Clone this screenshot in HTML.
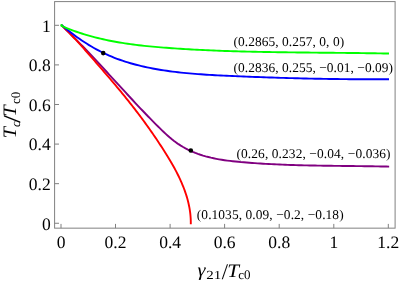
<!DOCTYPE html>
<html><head><meta charset="utf-8"><style>
html,body{margin:0;padding:0;background:#fff;}
svg{display:block;font-family:"Liberation Serif",serif;text-rendering:geometricPrecision;}
.i{font-style:italic}
</style></head><body>
<svg style="will-change:transform" width="399" height="281" viewBox="0 0 399 281">
<rect width="399" height="281" fill="#fff"/>
<g fill="none" stroke-width="1.9" stroke-linecap="butt" stroke-linejoin="round">
<path stroke="#800080" d="M61.16,25.04 L63.16,26.93 L65.16,28.82 L67.14,30.73 L69.11,32.65 L71.07,34.57 L73.03,36.50 L74.97,38.44 L76.91,40.39 L78.84,42.34 L80.76,44.31 L82.67,46.27 L84.58,48.24 L86.48,50.22 L88.37,52.21 L90.26,54.19 L92.14,56.19 L94.02,58.19 L95.89,60.19 L97.76,62.19 L99.63,64.20 L101.49,66.21 L103.35,68.22 L105.21,70.24 L107.07,72.26 L108.92,74.28 L110.77,76.30 L112.62,78.32 L114.48,80.34 L116.33,82.36 L118.18,84.39 L120.03,86.41 L121.88,88.43 L123.74,90.45 L125.59,92.47 L127.45,94.49 L129.31,96.50 L131.18,98.51 L133.04,100.52 L134.92,102.53 L136.79,104.53 L138.67,106.53 L140.56,108.53 L142.45,110.52 L144.34,112.51 L146.24,114.49 L148.15,116.47 L150.07,118.44 L151.99,120.40 L153.92,122.36 L155.86,124.31 L157.81,126.25 L159.77,128.19 L161.73,130.12 L163.72,132.02 L165.72,133.90 L167.76,135.75 L169.82,137.55 L171.92,139.30 L174.06,140.99 L176.25,142.61 L178.49,144.16 L180.78,145.64 L183.11,147.04 L185.49,148.36 L187.90,149.61 L190.35,150.79 L192.83,151.88 L195.35,152.90 L197.89,153.86 L200.45,154.74 L203.05,155.56 L205.67,156.32 L208.30,157.02 L210.96,157.67 L213.64,158.26 L216.34,158.81 L219.05,159.31 L221.77,159.77 L224.51,160.19 L227.25,160.57 L230.01,160.93 L232.77,161.25 L235.53,161.55 L238.30,161.82 L241.07,162.08 L243.84,162.32 L246.61,162.55 L249.37,162.76 L252.13,162.97 L254.89,163.16 L257.65,163.35 L260.40,163.53 L263.15,163.69 L265.89,163.85 L268.64,164.00 L271.38,164.15 L274.12,164.28 L276.86,164.41 L279.60,164.53 L282.33,164.64 L285.07,164.75 L287.80,164.85 L290.53,164.94 L293.26,165.03 L295.99,165.11 L298.71,165.19 L301.44,165.26 L304.17,165.33 L306.89,165.39 L309.62,165.45 L312.34,165.51 L315.07,165.56 L317.80,165.61 L320.52,165.65 L323.25,165.69 L325.97,165.73 L328.70,165.77 L331.43,165.81 L334.16,165.84 L336.89,165.87 L339.62,165.90 L342.36,165.93 L345.09,165.97 L347.83,166.00 L350.56,166.03 L353.30,166.06 L356.05,166.09 L358.79,166.12 L361.54,166.15 L364.29,166.19 L367.04,166.23 L369.79,166.27 L372.55,166.31 L375.31,166.35 L378.08,166.40 L380.84,166.45 L383.61,166.50 L386.39,166.56 L389.17,166.62"/>
<path stroke="#ff0000" d="M61.27,24.94 L62.73,26.36 L64.18,27.78 L65.63,29.21 L67.06,30.65 L68.48,32.10 L69.90,33.56 L71.31,35.03 L72.71,36.50 L74.11,37.98 L75.50,39.46 L76.88,40.95 L78.26,42.45 L79.63,43.95 L81.00,45.46 L82.36,46.97 L83.72,48.48 L85.07,50.00 L86.42,51.53 L87.77,53.05 L89.11,54.58 L90.45,56.12 L91.79,57.65 L93.13,59.19 L94.47,60.72 L95.81,62.26 L97.14,63.80 L98.48,65.34 L99.81,66.88 L101.14,68.42 L102.48,69.97 L103.81,71.51 L105.14,73.05 L106.47,74.60 L107.79,76.15 L109.12,77.70 L110.44,79.25 L111.76,80.80 L113.08,82.35 L114.39,83.91 L115.70,85.47 L117.01,87.03 L118.32,88.59 L119.61,90.16 L120.91,91.72 L122.20,93.30 L123.49,94.87 L124.77,96.45 L126.05,98.03 L127.32,99.61 L128.59,101.20 L129.85,102.79 L131.10,104.39 L132.36,105.98 L133.60,107.59 L134.84,109.19 L136.08,110.80 L137.31,112.41 L138.53,114.03 L139.75,115.65 L140.97,117.28 L142.18,118.91 L143.38,120.54 L144.58,122.18 L145.77,123.82 L146.96,125.47 L148.14,127.12 L149.32,128.78 L150.49,130.44 L151.65,132.10 L152.81,133.77 L153.96,135.45 L155.11,137.13 L156.25,138.82 L157.39,140.51 L158.52,142.20 L159.64,143.90 L160.76,145.61 L161.87,147.32 L162.97,149.03 L164.07,150.76 L165.16,152.48 L166.25,154.22 L167.33,155.96 L168.39,157.70 L169.45,159.45 L170.49,161.21 L171.52,162.98 L172.54,164.75 L173.54,166.53 L174.52,168.32 L175.49,170.11 L176.44,171.91 L177.37,173.72 L178.27,175.54 L179.16,177.37 L180.02,179.21 L180.86,181.05 L181.68,182.91 L182.46,184.77 L183.22,186.64 L183.96,188.52 L184.66,190.42 L185.33,192.32 L185.97,194.23 L186.58,196.16 L187.15,198.09 L187.69,200.03 L188.19,201.99 L188.65,203.96 L189.07,205.93 L189.45,207.92 L189.78,209.92 L190.07,211.94 L190.32,213.96 L190.51,216.00 L190.66,218.04 L190.76,220.10 L190.80,222.18 L190.79,224.26"/>
<path stroke="#0000ff" d="M61.27,24.79 L63.47,26.62 L65.69,28.44 L67.93,30.23 L70.19,32.00 L72.47,33.75 L74.77,35.46 L77.09,37.15 L79.44,38.80 L81.80,40.42 L84.19,42.01 L86.59,43.56 L89.02,45.08 L91.46,46.55 L93.93,47.98 L96.42,49.37 L98.93,50.71 L101.46,52.01 L104.02,53.26 L106.59,54.46 L109.18,55.61 L111.80,56.71 L114.43,57.77 L117.08,58.79 L119.74,59.76 L122.42,60.69 L125.12,61.58 L127.83,62.42 L130.55,63.24 L133.29,64.01 L136.04,64.75 L138.79,65.45 L141.56,66.12 L144.34,66.75 L147.12,67.36 L149.91,67.93 L152.71,68.48 L155.51,69.00 L158.32,69.49 L161.13,69.95 L163.95,70.40 L166.77,70.81 L169.59,71.21 L172.42,71.58 L175.25,71.93 L178.08,72.27 L180.92,72.58 L183.76,72.87 L186.60,73.15 L189.44,73.41 L192.29,73.66 L195.14,73.89 L197.98,74.11 L200.84,74.31 L203.69,74.51 L206.54,74.69 L209.40,74.86 L212.25,75.03 L215.11,75.18 L217.96,75.33 L220.82,75.48 L223.68,75.61 L226.53,75.75 L229.39,75.88 L232.24,76.00 L235.09,76.13 L237.95,76.25 L240.80,76.38 L243.65,76.49 L246.50,76.61 L249.35,76.73 L252.20,76.84 L255.05,76.95 L257.90,77.06 L260.75,77.16 L263.60,77.26 L266.45,77.37 L269.30,77.46 L272.14,77.56 L274.99,77.65 L277.84,77.74 L280.68,77.83 L283.53,77.92 L286.38,78.00 L289.22,78.08 L292.07,78.16 L294.92,78.24 L297.76,78.31 L300.61,78.38 L303.46,78.45 L306.30,78.52 L309.15,78.58 L311.99,78.64 L314.84,78.70 L317.69,78.76 L320.54,78.81 L323.38,78.86 L326.23,78.91 L329.08,78.95 L331.93,78.99 L334.78,79.03 L337.63,79.07 L340.48,79.10 L343.33,79.13 L346.18,79.16 L349.03,79.19 L351.88,79.21 L354.73,79.23 L357.59,79.25 L360.44,79.26 L363.30,79.27 L366.15,79.28 L369.01,79.28 L371.86,79.28 L374.72,79.28 L377.58,79.28 L380.44,79.27 L383.30,79.26 L386.16,79.25 L389.03,79.23"/>
<path stroke="#00ff00" d="M60.87,25.58 L63.45,26.71 L66.03,27.79 L68.63,28.84 L71.23,29.85 L73.85,30.82 L76.47,31.76 L79.10,32.66 L81.74,33.52 L84.39,34.36 L87.05,35.16 L89.72,35.92 L92.39,36.66 L95.07,37.36 L97.75,38.04 L100.45,38.68 L103.15,39.30 L105.86,39.89 L108.57,40.46 L111.29,41.00 L114.01,41.52 L116.74,42.01 L119.47,42.48 L122.21,42.93 L124.96,43.35 L127.70,43.76 L130.46,44.15 L133.21,44.51 L135.97,44.86 L138.73,45.20 L141.50,45.52 L144.26,45.82 L147.03,46.11 L149.81,46.38 L152.58,46.65 L155.36,46.90 L158.13,47.14 L160.91,47.37 L163.69,47.59 L166.47,47.80 L169.25,48.01 L172.03,48.21 L174.81,48.40 L177.59,48.59 L180.38,48.77 L183.16,48.94 L185.94,49.11 L188.72,49.28 L191.50,49.43 L194.28,49.59 L197.06,49.73 L199.84,49.88 L202.62,50.01 L205.40,50.14 L208.18,50.27 L210.96,50.39 L213.75,50.51 L216.53,50.62 L219.31,50.73 L222.09,50.84 L224.87,50.94 L227.65,51.03 L230.43,51.13 L233.21,51.22 L236.00,51.30 L238.78,51.38 L241.56,51.46 L244.34,51.53 L247.12,51.60 L249.90,51.67 L252.68,51.74 L255.47,51.80 L258.25,51.86 L261.03,51.91 L263.81,51.97 L266.59,52.02 L269.37,52.07 L272.15,52.11 L274.94,52.16 L277.72,52.20 L280.50,52.24 L283.28,52.28 L286.06,52.32 L288.84,52.35 L291.63,52.39 L294.41,52.42 L297.19,52.45 L299.97,52.48 L302.75,52.51 L305.54,52.54 L308.32,52.57 L311.10,52.60 L313.88,52.62 L316.66,52.65 L319.44,52.68 L322.23,52.70 L325.01,52.73 L327.79,52.75 L330.57,52.78 L333.35,52.80 L336.14,52.83 L338.92,52.86 L341.70,52.89 L344.48,52.91 L347.26,52.94 L350.04,52.97 L352.83,53.00 L355.61,53.04 L358.39,53.07 L361.17,53.10 L363.95,53.14 L366.74,53.18 L369.52,53.22 L372.30,53.26 L375.08,53.30 L377.86,53.35 L380.65,53.40 L383.43,53.45 L386.21,53.50 L388.99,53.55"/>
</g>
<circle cx="61.5" cy="25.1" r="1.15" fill="#00ff00"/>
<circle cx="103.2" cy="53.1" r="2.3" fill="#000"/>
<circle cx="190.8" cy="150.5" r="2.3" fill="#000"/>
<g stroke="#808080" stroke-width="1" fill="none">
<rect x="54.6" y="1.6" width="340.5" height="226.55"/>
<line x1="61.0" y1="228.15" x2="61.0" y2="223.9"/><line x1="115.5" y1="228.15" x2="115.5" y2="223.9"/><line x1="170.1" y1="228.15" x2="170.1" y2="223.9"/><line x1="224.6" y1="228.15" x2="224.6" y2="223.9"/><line x1="279.2" y1="228.15" x2="279.2" y2="223.9"/><line x1="333.8" y1="228.15" x2="333.8" y2="223.9"/><line x1="388.3" y1="228.15" x2="388.3" y2="223.9"/><line x1="54.6" y1="223.26" x2="59" y2="223.26"/><line x1="54.6" y1="183.67" x2="59" y2="183.67"/><line x1="54.6" y1="144.08" x2="59" y2="144.08"/><line x1="54.6" y1="104.49" x2="59" y2="104.49"/><line x1="54.6" y1="64.90" x2="59" y2="64.90"/><line x1="54.6" y1="25.31" x2="59" y2="25.31"/>
</g>
<g font-size="17.5" fill="#000"><text x="61.0" y="248.3" text-anchor="middle">0</text><text x="115.5" y="248.3" text-anchor="middle">0.2</text><text x="170.1" y="248.3" text-anchor="middle">0.4</text><text x="224.6" y="248.3" text-anchor="middle">0.6</text><text x="279.2" y="248.3" text-anchor="middle">0.8</text><text x="333.8" y="248.3" text-anchor="middle">1</text><text x="388.3" y="248.3" text-anchor="middle">1.2</text><text x="50.7" y="229.6" text-anchor="end">0</text><text x="50.7" y="190.0" text-anchor="end">0.2</text><text x="50.7" y="150.4" text-anchor="end">0.4</text><text x="50.7" y="110.8" text-anchor="end">0.6</text><text x="50.7" y="71.2" text-anchor="end">0.8</text><text x="50.7" y="31.6" text-anchor="end">1</text></g>
<g font-size="13.4" fill="#000">
<text x="233.5" y="46.3" textLength="110.6">(0.2865, 0.257, 0, 0)</text>
<text x="233.5" y="71.9" textLength="159.5">(0.2836, 0.255, −0.01, −0.09)</text>
<text x="236.5" y="157.8" textLength="154">(0.26, 0.232, −0.04, −0.036)</text>
<text x="196.8" y="219.4" textLength="146.8">(0.1035, 0.09, −0.2, −0.18)</text>
</g>
<g id="xt" fill="#000" font-size="19">
<text class="i" x="197.4" y="276.3" font-size="18.5" textLength="8.0" lengthAdjust="spacingAndGlyphs">γ</text>
<text x="206.2" y="279.2" font-size="12.3" textLength="15" lengthAdjust="spacingAndGlyphs">21</text>
<text x="221.7" y="279.3" font-size="22.5">/</text>
<text class="i" x="227.3" y="276.5" textLength="11.8" lengthAdjust="spacingAndGlyphs">T</text>
<text x="238.3" y="279.4" font-size="13">c0</text>
</g>
<g id="yt" fill="#000" font-size="19" transform="translate(16.1,138.2) rotate(-90)">
<text class="i" x="0" y="0" textLength="11.2" lengthAdjust="spacingAndGlyphs">T</text>
<text class="i" x="11.1" y="4" font-size="13">c</text>
<text x="15.2" y="4" font-size="24.5" textLength="7.9" lengthAdjust="spacingAndGlyphs">/</text>
<text class="i" x="21.7" y="0" textLength="11.2" lengthAdjust="spacingAndGlyphs">T</text>
<text x="34.3" y="4" font-size="13">c0</text>
</g>
</svg>
</body></html>
